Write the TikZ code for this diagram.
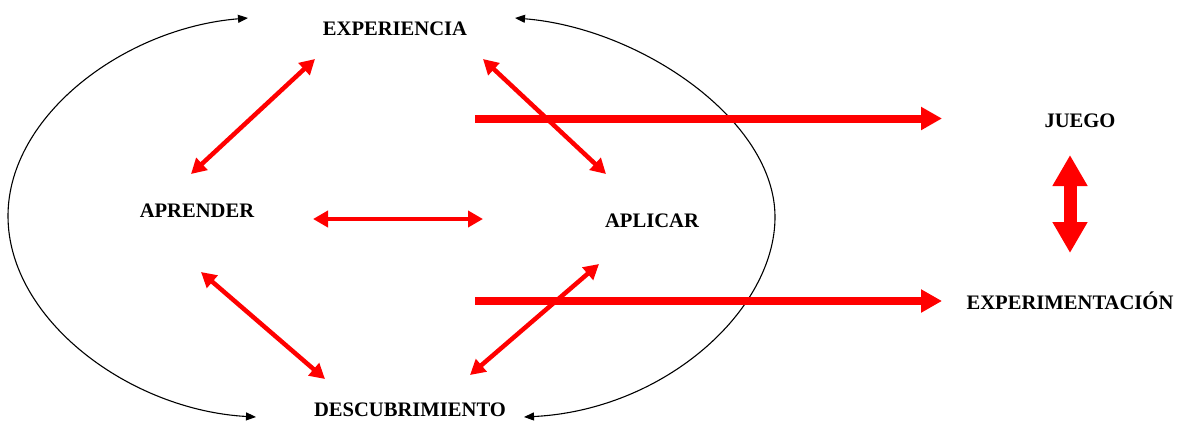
\documentclass[tikz,border=0pt]{standalone}
\usepackage{fontspec}
\setmainfont{Liberation Serif}
\usetikzlibrary{arrows.meta}
\begin{document}
\begin{tikzpicture}[x=1pt,y=-1pt,
  lbl/.style={font=\fontsize{20.6}{24}\selectfont\bfseries, inner sep=0pt, anchor=base},
  redarr/.style={draw=red, line width=4.5pt, {Triangle[length=15pt,width=16pt]}-{Triangle[length=15pt,width=16pt]}},
  bigarr/.style={draw=red, line width=8pt, -{Triangle[length=21pt,width=22pt]}},
  vertarr/.style={draw=red, line width=13pt, {Triangle[length=31pt,width=33pt]}-{Triangle[length=31pt,width=33pt]}},
  loopline/.style={draw=black, line width=1.1pt, {Triangle[length=10pt,width=8pt]}-{Triangle[length=10pt,width=8pt]}}
]
\useasboundingbox (0,0) rectangle (1182,421);
\fill[white] (0,0) rectangle (1182,421);

% labels
\node[lbl] (exp) at (395,35) {EXPERIENCIA};
\node[lbl] (apr) at (197,217) {APRENDER};
\node[lbl] (apl) at (652,227) {APLICAR};
\node[lbl] (des) at (410,416) {DESCUBRIMIENTO};
\node[lbl] (jue) at (1080,127) {JUEGO};
\node[lbl] (expm) at (1070,309) {EXPERIMENTACIÓN};

% arrow end points
\coordinate (a1s) at (315,59);  \coordinate (a1e) at (191,174);
\coordinate (a2s) at (483,59);  \coordinate (a2e) at (606,174);
\coordinate (a3s) at (313,219); \coordinate (a3e) at (483,219);
\coordinate (a4s) at (201,272); \coordinate (a4e) at (325,379);
\coordinate (a5s) at (599,264); \coordinate (a5e) at (470,375);
\coordinate (b1s) at (475,118.5); \coordinate (b1e) at (942,118.5);
\coordinate (b2s) at (475,301);   \coordinate (b2e) at (942,301);
\coordinate (vs) at (1070,155); \coordinate (ve) at (1070,253);
\coordinate (tl) at (248,18); \coordinate (lm) at (8,216); \coordinate (bl) at (256,417);
\coordinate (tr) at (515,18); \coordinate (rm) at (775,217); \coordinate (br) at (524,417);

% black loops
\draw[loopline] (tl) .. controls (125,28) and (8,115) .. (lm) .. controls (8,320) and (130,410) .. (bl);
\draw[loopline] (tr) .. controls (640,28) and (775,120) .. (rm) .. controls (775,310) and (665,410) .. (br);

% red arrows
\draw[redarr] (a1s) -- (a1e);
\draw[redarr] (a2s) -- (a2e);
\draw[redarr] (a3s) -- (a3e);
\draw[redarr] (a4s) -- (a4e);
\draw[redarr] (a5s) -- (a5e);
\draw[bigarr] (b1s) -- (b1e);
\draw[bigarr] (b2s) -- (b2e);
\draw[vertarr] (vs) -- (ve);
\end{tikzpicture}
\end{document}
